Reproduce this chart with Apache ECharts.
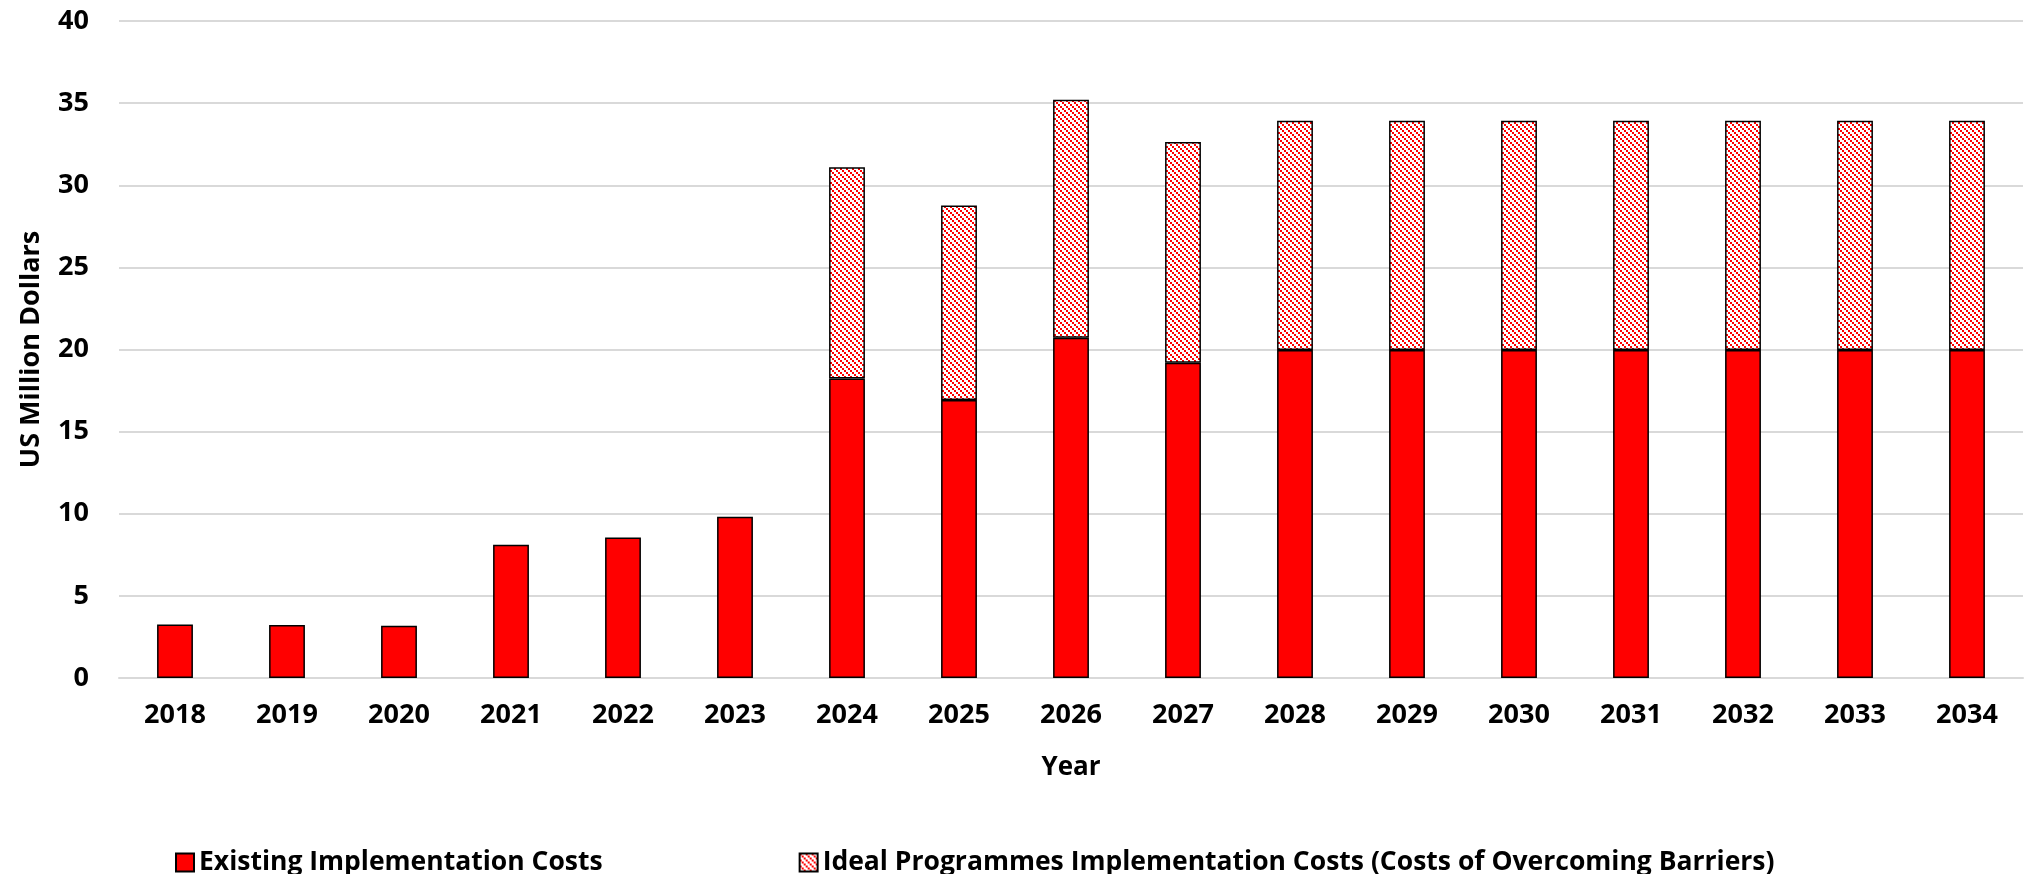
<!DOCTYPE html>
<html>
<head>
<meta charset="utf-8">
<title>Implementation Costs</title>
<script src="https://cdn.jsdelivr.net/npm/echarts@6/dist/echarts.min.js"></script>
<style>
  html, body { margin: 0; padding: 0; background: #fff; }
  #chart { width: 2024px; height: 874px; }
</style>
</head>
<body>
<div id="chart"></div>
<script>
const years = ['2018', '2019', '2020', '2021', '2022', '2023', '2024', '2025', '2026',
  '2027', '2028', '2029', '2030', '2031', '2032', '2033', '2034'];
const existingCosts = [3.26, 3.22, 3.18, 8.12, 8.55, 9.81, 18.24, 16.92, 20.72,
  19.2, 19.97, 19.97, 19.97, 19.97, 19.97, 19.97, 19.97];
const idealCosts = [0, 0, 0, 0, 0, 0, 12.85, 11.85, 14.49,
  13.43, 13.96, 13.96, 13.96, 13.96, 13.96, 13.96, 13.96];
const yTicks = [0, 5, 10, 15, 20, 25, 30, 35, 40];

// red downward-diagonal hatch like the excel pattern fill
function hatch() {
  const c = document.createElement('canvas');
  c.width = 6;
  c.height = 6;
  const ctx = c.getContext('2d');
  ctx.fillStyle = '#fff';
  ctx.fillRect(0, 0, 6, 6);
  ctx.fillStyle = '#ff0000';
  ctx.fillRect(0, 0, 2, 2);
  ctx.fillRect(2, 2, 2, 2);
  ctx.fillRect(4, 4, 2, 2);
  return c;
}

const font = "'Open Sans', 'DejaVu Sans', sans-serif";
const chart = echarts.init(document.getElementById('chart'));

chart.setOption({
  animation: false,
  grid: { left: 119, right: 1, top: 21, bottom: 196 },
  legend: {
    left: 170,
    top: 844,
    icon: 'rect',
    itemWidth: 18,
    itemHeight: 18,
    itemGap: 196,
    textStyle: { fontFamily: font, fontWeight: 'bold', fontSize: 26.5, color: '#000' },
    data: ['Existing Implementation Costs', 'Ideal Programmes Implementation Costs (Costs of Overcoming Barriers)']
  },
  xAxis: {
    type: 'category',
    data: years,
    name: 'Year',
    nameLocation: 'middle',
    nameGap: 77,
    nameTextStyle: { fontFamily: font, fontWeight: 'bold', fontSize: 26, color: '#000' },
    axisLine: { lineStyle: { color: '#d9d9d9', width: 2 } },
    axisTick: { length: 10, lineStyle: { color: '#d9d9d9', width: 2 } },
    axisLabel: { margin: 24, fontFamily: font, fontWeight: 'bold', fontSize: 27, color: '#000' }
  },
  yAxis: {
    type: 'value',
    min: yTicks[0],
    max: yTicks[yTicks.length - 1],
    interval: 5,
    name: 'US Million Dollars',
    nameLocation: 'middle',
    nameGap: 74,
    nameTextStyle: { fontFamily: font, fontWeight: 'bold', fontSize: 27, color: '#000' },
    axisLine: { show: false },
    axisTick: { show: false },
    splitLine: { lineStyle: { color: '#d9d9d9', width: 2 } },
    axisLabel: { margin: 30, fontFamily: font, fontWeight: 'bold', fontSize: 27, color: '#000' }
  },
  series: [
    {
      name: 'Existing Implementation Costs',
      type: 'bar',
      stack: 'cost',
      barWidth: '32%',
      data: existingCosts,
      itemStyle: { color: '#ff0000', borderColor: '#000', borderWidth: 1.5 }
    },
    {
      name: 'Ideal Programmes Implementation Costs (Costs of Overcoming Barriers)',
      type: 'bar',
      stack: 'cost',
      barWidth: '32%',
      data: idealCosts.map(v => (v > 0 ? v : null)),
      itemStyle: {
        color: { image: hatch(), repeat: 'repeat' },
        borderColor: '#000',
        borderWidth: 1.5
      }
    }
  ]
});
</script>
</body>
</html>
